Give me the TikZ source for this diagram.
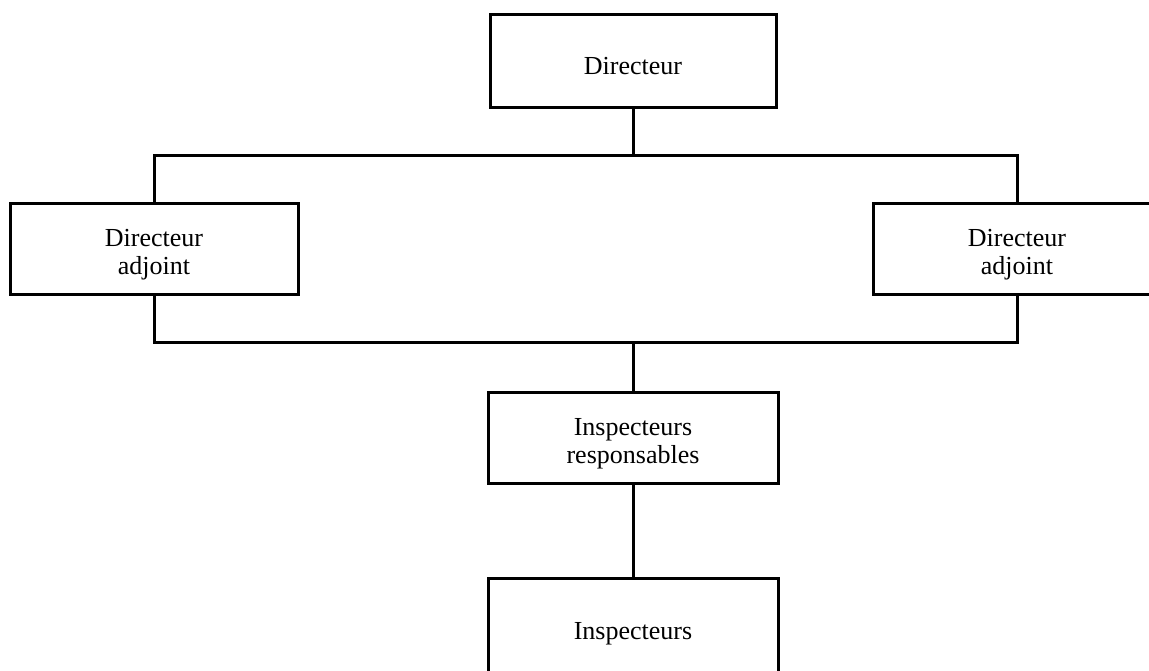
\documentclass[tikz,border=0pt]{standalone}
\usepackage{fontspec}
\setmainfont{Liberation Serif}
% extra room above the first line, so each label sits a little low in its box
\newcommand\toproom{\rule{0pt}{14.5pt}}
\begin{document}
\begin{tikzpicture}[x=0.5pt,y=-0.5pt,
  orgbox/.style={draw=black,line width=1.5pt,fill=white,align=center,
    font=\fontsize{13}{14}\selectfont,inner sep=0pt},
  link/.style={draw=black,line width=1.5pt}]
\useasboundingbox (0,0) rectangle (1149,670);
\clip (0,0) rectangle (1149,670);

% hierarchy boxes
\node[orgbox,minimum width=143pt,minimum height=46.5pt] (dir) at (633,60.5) {\toproom Directeur};
\node[orgbox,minimum width=144pt,minimum height=45.5pt] (adjL) at (154,248.5) {\toproom Directeur\\adjoint};
\node[orgbox,minimum width=144pt,minimum height=45.5pt] (adjR) at (1017,248.5) {\toproom Directeur\\adjoint};
\node[orgbox,minimum width=145pt,minimum height=45.5pt] (resp) at (633,437.5) {\toproom Inspecteurs\\responsables};
\node[orgbox,minimum width=145pt,minimum height=50pt] (insp) at (633,628) {\toproom Inspecteurs};

% junction points of the two bus lines
\coordinate (tl) at (154,155);
\coordinate (tr) at (1017,155);
\coordinate (bl) at (154,342);
\coordinate (br) at (1017,342);

% connectors
\draw[link] (dir.south) -- (dir.south |- tl);
\draw[link] (adjL.north) -- (tl) -- (tr) -- (adjR.north);
\draw[link] (adjL.south) -- (bl) -- (br) -- (adjR.south);
\draw[link] (resp.north |- bl) -- (resp.north);
\draw[link] (resp.south) -- (insp.north);
\end{tikzpicture}
\end{document}
